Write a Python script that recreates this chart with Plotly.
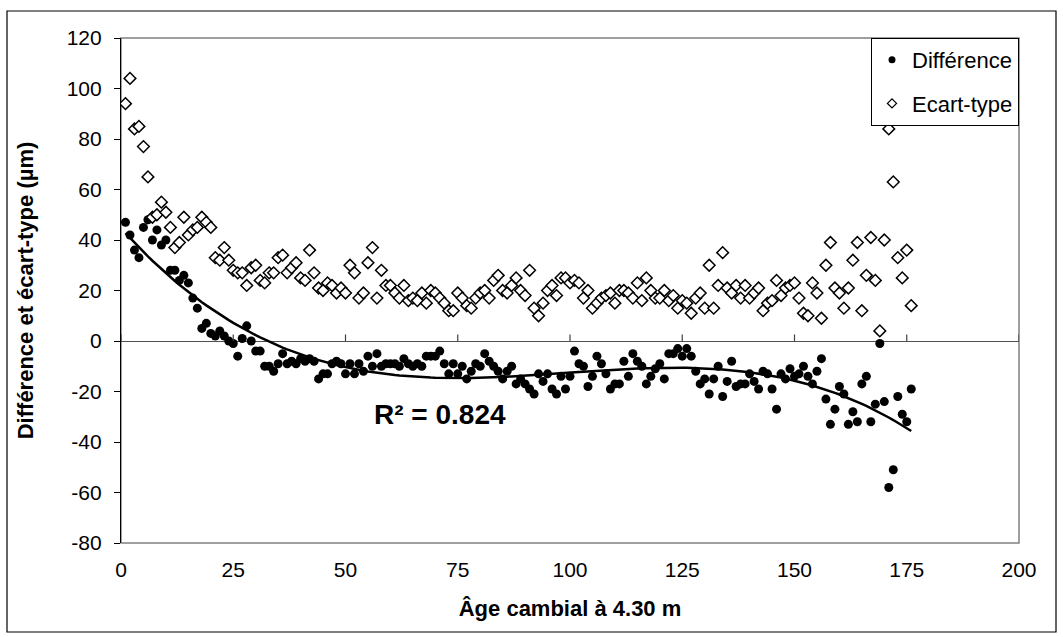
import numpy as np
import plotly.graph_objects as go

age = list(range(1, 177))

difference = [
    47, 42, 36, 33, 45, 48, 40, 44, 38, 40,
    28, 28, 24, 26, 23, 17, 13, 5, 7, 3,
    2, 4, 2, 0, -1, -6, 1, 6, 0, -4,
    -4, -10, -10, -12, -9, -5, -9, -8, -9, -7,
    -8, -7, -8, -15, -13, -13, -9, -8, -9, -13,
    -9, -13, -9, -12, -6, -10, -5, -10, -9, -9,
    -9, -10, -7, -9, -10, -9, -10, -6, -6, -6,
    -4, -9, -13, -9, -13, -10, -15, -12, -9, -10,
    -5, -8, -10, -12, -15, -12, -10, -17, -15, -17,
    -19, -21, -13, -16, -13, -19, -21, -14, -19, -14,
    -4, -9, -10, -18, -14, -6, -9, -13, -19, -17,
    -17, -8, -14, -5, -8, -10, -17, -14, -11, -9,
    -15, -5, -5, -3, -6, -3, -6, -12, -17, -15,
    -21, -15, -10, -22, -16, -8, -18, -17, -17, -13,
    -16, -19, -12, -13, -19, -27, -13, -15, -11, -14,
    -13, -10, -14, -17, -12, -7, -23, -33, -27, -18,
    -21, -33, -28, -32, -17, -14, -32, -25, -1, -24,
    -58, -51, -22, -29, -32, -19,
]

ecart_type = [
    94, 104, 84, 85, 77, 65, 49, 50, 55, 51,
    45, 37, 39, 49, 42, 44, 45, 49, 47, 45,
    33, 32, 37, 32, 28, 27, 27, 22, 29, 30,
    24, 23, 27, 27, 33, 34, 27, 29, 31, 25,
    24, 36, 27, 21, 20, 23, 22, 19, 21, 19,
    30, 27, 17, 19, 31, 37, 17, 28, 22, 22,
    19, 17, 22, 16, 17, 16, 19, 15, 20, 19,
    17, 15, 12, 12, 19, 17, 14, 13, 17, 19,
    20, 17, 24, 26, 20, 19, 22, 25, 20, 18,
    28, 13, 10, 15, 20, 22, 18, 25, 25, 23,
    24, 23, 17, 20, 13, 15, 17, 18, 19, 15,
    20, 20, 19, 17, 23, 16, 25, 20, 17, 17,
    20, 16, 18, 13, 16, 15, 11, 17, 19, 13,
    30, 13, 22, 35, 21, 19, 22, 17, 22, 17,
    19, 21, 12, 15, 16, 24, 18, 21, 22, 23,
    17, 11, 10, 23, 19, 9, 30, 39, 21, 19,
    13, 21, 32, 39, 12, 26, 41, 24, 4, 40,
    84, 63, 33, 25, 36, 14,
]

x_ticks = [0, 25, 50, 75, 100, 125, 150, 175, 200]
y_ticks = [-80, -60, -40, -20, 0, 20, 40, 60, 80, 100, 120]
r2_label = "R² = 0.824"

coef = np.polyfit(age, difference, 3)
trend = np.polyval(coef, age)

FONT = "Liberation Sans, Arial, sans-serif"

fig = go.Figure()
fig.add_trace(go.Scatter(
    x=age, y=difference, mode="markers", name="Différence", showlegend=False,
    marker=dict(symbol="circle", size=9, color="black"),
))
fig.add_trace(go.Scatter(
    x=age, y=ecart_type, mode="markers", name="Ecart-type", showlegend=False,
    marker=dict(symbol="diamond", size=9, color="white",
                line=dict(color="black", width=1.5)),
))
fig.add_trace(go.Scatter(
    x=age, y=trend, mode="lines", showlegend=False,
    line=dict(color="black", width=2.5),
))
# legend entries (smaller symbols, as in the original legend)
fig.add_trace(go.Scatter(
    x=[None], y=[None], mode="markers", name="Différence", legendgroup="a",
    marker=dict(symbol="circle", size=7, color="black"),
))
fig.add_trace(go.Scatter(
    x=[None], y=[None], mode="markers", name="Ecart-type", legendgroup="b",
    marker=dict(symbol="diamond", size=7, color="white",
                line=dict(color="black", width=1.3)),
))

shapes = []
shapes.append(dict(type="rect", xref="paper", yref="paper", x0=0, x1=1, y0=0, y1=1,
                   line=dict(color="#808080", width=1.5), layer="below"))
shapes.append(dict(type="rect", xref="paper", yref="paper",
                   x0=-114 / 898, x1=1 + 37 / 898, y0=-89 / 505, y1=1 + 27 / 505,
                   line=dict(color="black", width=1.2), layer="below"))
for t in x_ticks:
    shapes.append(dict(type="line", xref="x", yref="y", x0=t, x1=t, y0=0, y1=2.6,
                       line=dict(color="#404040", width=1.2)))

fig.update_layout(
    width=1063, height=637,
    margin=dict(l=121, r=44, t=38, b=94),
    paper_bgcolor="white", plot_bgcolor="white",
    font=dict(family=FONT, size=21, color="black"),
    showlegend=True,
    legend=dict(x=1, xanchor="right", y=1, yanchor="top",
                bordercolor="black", borderwidth=1, bgcolor="white",
                font=dict(size=22), tracegroupgap=12, itemwidth=30),
    shapes=shapes,
    annotations=[dict(x=71, y=-29, xref="x", yref="y", text="<b>" + r2_label + "</b>",
                      showarrow=False, font=dict(size=28, family=FONT))],
)

fig.update_xaxes(
    range=[0, 200], tickvals=x_ticks, ticktext=[str(t) for t in x_ticks],
    showgrid=False, zeroline=False, showline=False, ticks="",
    ticklabelstandoff=12,
    tickfont=dict(size=21),
    title=dict(text="<b>Âge cambial à 4.30 m</b>", font=dict(size=22), standoff=20),
)
fig.update_yaxes(
    range=[-80, 120], tickvals=y_ticks, ticktext=[str(t) for t in y_ticks],
    showgrid=False, zeroline=True, zerolinecolor="#505050", zerolinewidth=1.2,
    showline=True, linecolor="black", linewidth=1.2,
    ticks="outside", ticklen=6, tickcolor="black",
    ticklabelstandoff=8,
    tickfont=dict(size=21),
    title=dict(text="<b>Différence et écart-type (µm)</b>", font=dict(size=22), standoff=26),
)

fig.write_html("out.html")
